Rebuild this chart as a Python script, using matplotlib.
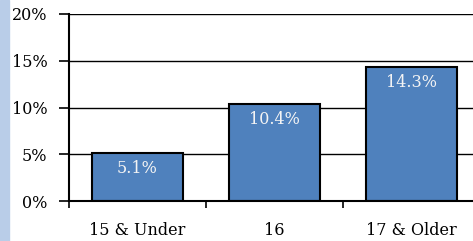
import matplotlib.pyplot as plt
from matplotlib.patches import Rectangle

categories = ["15 & Under", "16", "17 & Older"]
values = [5.1, 10.4, 14.3]
y_ticks = [0, 5, 10, 15, 20]
y_labels = ["0%", "5%", "10%", "15%", "20%"]

plt.rcParams['font.family'] = ['DejaVu Serif']
fs = 11.5

fig = plt.figure(figsize=(4.73, 2.41), dpi=100)
fig.patches.append(Rectangle((0, 0), 9 / 473, 1, transform=fig.transFigure,
                             color="#b9cde8", zorder=0))

ax = fig.add_axes([69 / 473, 40 / 241, 411 / 473, 187 / 241])
x = range(len(categories))
bars = ax.bar(x, values, width=0.67, color="#4f81bd", edgecolor="black",
              linewidth=1.5, zorder=3)

for b, v in zip(bars, values):
    ax.annotate(f"{v}%", (b.get_x() + b.get_width() / 2, v),
                xytext=(0, -11), textcoords="offset points",
                ha="center", va="center", color="#f4f4f4", fontsize=fs, zorder=4)

ax.set_xlim(-0.5, 2.5)
ax.set_ylim(0, 20)
ax.set_yticks(y_ticks)
ax.set_yticklabels(y_labels, fontsize=fs)
ax.yaxis.grid(True, color="black", linewidth=1)
ax.set_axisbelow(True)

ax.set_xticks([-0.5, 0.5, 1.5, 2.5])
ax.set_xticklabels([])
ax.set_xticks(list(x), minor=True)
ax.set_xticklabels(categories, minor=True, fontsize=fs)
ax.tick_params(axis="x", which="major", length=5, width=1.2, color="black")
ax.tick_params(axis="x", which="minor", length=0, pad=15)
ax.tick_params(axis="y", length=7, width=1.2, pad=8.5)

for s in ["top", "right"]:
    ax.spines[s].set_visible(False)
for s in ["left", "bottom"]:
    ax.spines[s].set_linewidth(1.5)
    ax.spines[s].set_zorder(5)

fig.savefig("out.png", dpi=100)
